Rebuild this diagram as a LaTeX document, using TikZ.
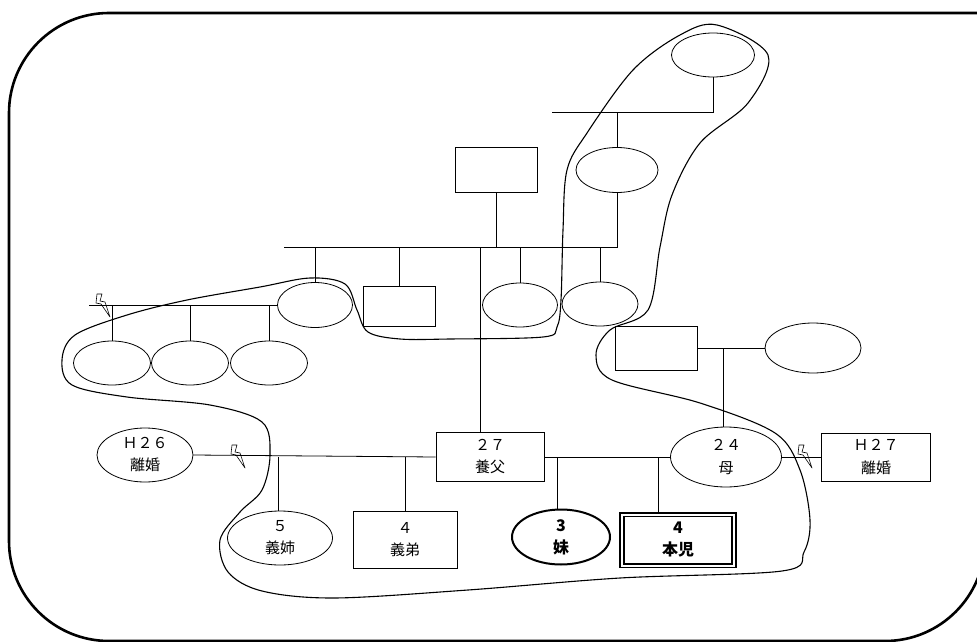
\documentclass[tikz,border=0pt]{standalone}
\usepackage{fontspec}
\newfontfamily\jp{Noto Sans CJK JP}
\usetikzlibrary{shapes.geometric}

\tikzset{
  kin/.style={draw, line width=0.8pt, inner sep=0pt, align=center,
    font=\jp\fontsize{15}{22}\selectfont},
  fem/.style={kin, ellipse},
  male/.style={kin, rectangle},
  link/.style={line width=0.8pt},
  household/.style={line width=1.1pt},
  bolt/.pic={\draw[line width=0.6pt, line join=round]
    (-6,-11) -- (-1,-11) -- (-3,-4) -- (2,-3) -- (7,12) -- (-2,-1) -- (-7,-2) -- cycle;}
}

\begin{document}
\begin{tikzpicture}[x=1pt, y=-1pt]
  \useasboundingbox (0,0) rectangle (977,642);
  % --- frame ---
  \draw[line width=2.6pt, rounded corners=100pt]
    (985,13) -- (9,13) -- (9,641) -- (985,641) -- (985,300);

  % --- grandparents ---
  \node[fem, minimum width=83pt, minimum height=44pt] (ggm) at (713,55) {};
  \node[fem, minimum width=82pt, minimum height=45pt] (gm) at (617,170) {};
  \node[male, minimum width=82pt, minimum height=45pt] (gf) at (496,170) {};
  \coordinate (topline) at (552,112);
  \coordinate (sibline) at (284,247);
  \draw[link] (ggm.south) |- (topline);
  \draw[link] (gm.north) -- (gm.north |- topline);
  \draw[link] (gm.south) |- (sibline);
  \draw[link] (gf.south) -- (gf.south |- sibline);

  % --- father's siblings ---
  \node[fem, minimum width=75pt, minimum height=45pt] (aunt) at (315,305) {};
  \node[male, minimum width=72pt, minimum height=40pt] (uncle) at (399,306) {};
  \node[fem, minimum width=75pt, minimum height=44pt] (aunttwo) at (520,305) {};
  \node[fem, minimum width=76pt, minimum height=44pt] (auntthree) at (600,304) {};
  \foreach \n in {aunt, uncle, aunttwo, auntthree}
    \draw[link] (\n.north) -- (\n.north |- sibline);

  % --- aunt's children ---
  \coordinate (cousinline) at (89,305);
  \draw[link] (aunt.west) -- (cousinline);
  \pic at (103,305) {bolt};
  \node[fem, minimum width=77pt, minimum height=44pt] (cousina) at (112,363) {};
  \node[fem, minimum width=77pt, minimum height=44pt] (cousinb) at (190,363) {};
  \node[fem, minimum width=77pt, minimum height=44pt] (cousinc) at (269,363) {};
  \foreach \n in {cousina, cousinb, cousinc}
    \draw[link] (\n.north) -- (\n.north |- cousinline);

  % --- mother's parents ---
  \node[male, minimum width=82pt, minimum height=44pt] (mgf) at (656,348) {};
  \node[fem, minimum width=96pt, minimum height=50pt] (mgm) at (813,348) {};
  \draw[link] (mgf.east) -- (mgm.west);

  % --- present family ---
  \node[fem, minimum width=96pt, minimum height=54pt] (exwife) at (145,455) {Ｈ２６\\離婚};
  \node[male, minimum width=108pt, minimum height=49pt] (father) at (490,457) {２７\\養父};
  \node[fem, minimum width=111pt, minimum height=60pt] (mother) at (726,457) {２４\\母};
  \node[male, minimum width=109pt, minimum height=48pt] (exhusband) at (876,457) {Ｈ２７\\離婚};
  \draw[link] ([xshift=-10pt]father.north) -- ([xshift=-10pt]father.north |- sibline);
  \draw[link] ([xshift=-3pt]mother.north) -- ([xshift=-3pt]mother.north |- mgf.east);
  \draw[link] (exwife.east) -- (father.west);
  \draw[link] (father.east) -- (mother.west);
  \draw[link] (mother.east) -- (exhusband.west);
  \pic at (238,456) {bolt};
  \pic at (805,456) {bolt};

  % --- children ---
  \node[fem, minimum width=105pt, minimum height=54pt] (stepsis) at (280,538) {５\\義姉};
  \node[male, minimum width=104pt, minimum height=57pt] (stepbro) at (405,540) {４\\義弟};
  \node[fem, line width=2pt, minimum width=98pt, minimum height=55pt,
    font=\jp\bfseries\fontsize{16}{22}\selectfont] (sister) at (561,537) {3\\妹};
  \node[male, line width=1.6pt, double, double distance=2pt, minimum width=112pt,
    minimum height=51pt, font=\jp\bfseries\fontsize{16}{22}\selectfont] (child) at (678,540) {4\\本児};
  \draw[link] ([xshift=-2pt]stepsis.north) -- ([xshift=-2pt]stepsis.north |- father.west);
  \draw[link] (stepbro.north) -- (stepbro.north |- father.west);
  \draw[link] ([xshift=-4pt]sister.north) -- ([xshift=-4pt]sister.north |- father.east);
  \draw[link] ([xshift=-20pt]child.north) -- ([xshift=-20pt]child.north |- father.east);

  % --- household ---
  \draw[household] plot[smooth cycle, tension=0.55] coordinates {
    (717,25) (768,55) (748,103) (700,143) (672,195) (660,247) (648,310)
    (610,330) (596,355) (612,380) (700,403) (775,433) (800,470) (810,520)
    (804,552) (782,571) (620,578) (468,590) (334,598) (262,591) (228,572)
    (220,540) (240,512) (262,490) (270,455) (262,422) (210,405) (127,397)
    (72,385) (62,360) (75,335) (127,315) (187,300) (260,287) (310,278)
    (345,284) (357,310) (368,332) (400,339) (450,339) (543,337) (557,327)
    (561,300) (563,230) (567,170) (587,133) (633,70) (680,35)};
\end{tikzpicture}
\end{document}
